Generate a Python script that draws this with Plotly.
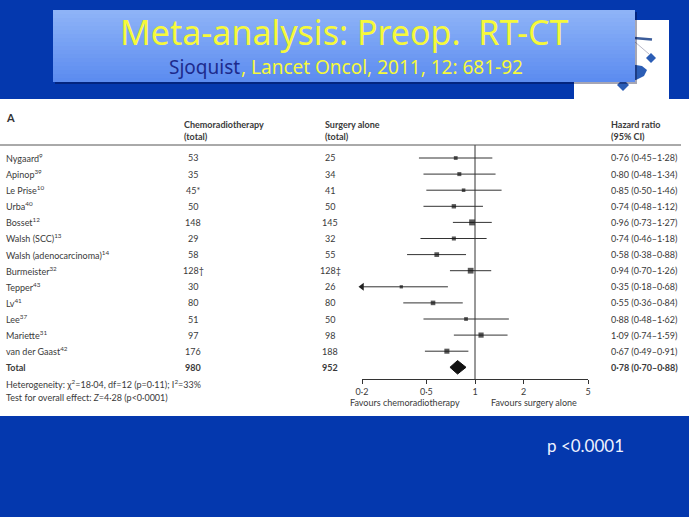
import math
import plotly.graph_objects as go

W, H = 689, 517

# ---------------- data ----------------
studies = ["Nygaard<sup>9</sup>", "Apinop<sup>39</sup>", "Le Prise<sup>10</sup>", "Urba<sup>40</sup>",
           "Bosset<sup>12</sup>", "Walsh (SCC)<sup>13</sup>", "Walsh (adenocarcinoma)<sup>14</sup>",
           "Burmeister<sup>32</sup>", "Tepper<sup>43</sup>", "Lv<sup>41</sup>", "Lee<sup>37</sup>",
           "Mariette<sup>31</sup>", "van der Gaast<sup>42</sup>"]
chemo_n = [53, 35, 45, 50, 148, 29, 58, 128, 30, 80, 51, 97, 176]
chemo_note = ["", "", "*", "", "", "", "", "†", "", "", "", "", ""]
surg_n = [25, 34, 41, 50, 145, 32, 55, 128, 26, 80, 50, 98, 188]
surg_note = ["", "", "", "", "", "", "", "‡", "", "", "", "", ""]
hr = [0.76, 0.80, 0.85, 0.74, 0.96, 0.74, 0.58, 0.94, 0.35, 0.55, 0.88, 1.09, 0.67]
hr_lo = [0.45, 0.48, 0.50, 0.48, 0.73, 0.46, 0.38, 0.70, 0.18, 0.36, 0.48, 0.74, 0.49]
hr_hi = [1.28, 1.34, 1.46, 1.12, 1.27, 1.18, 0.88, 1.26, 0.68, 0.84, 1.62, 1.59, 0.91]
weights = [5.6, 6.3, 5.0, 7.5, 14.0, 6.4, 8.6, 13.0, 4.2, 8.2, 5.5, 10.5, 10.0]
total_chemo, total_surg = 980, 952
total_hr, total_lo, total_hi = 0.78, 0.70, 0.88
tick_vals = [0.2, 0.5, 1, 2, 5]
tick_text = ["0·2", "0·5", "1", "2", "5"]
heterogeneity = "Heterogeneity: χ<sup>2</sup>=18·04, df=12 (p=0·11); I<sup>2</sup>=33%"
overall = "Test for overall effect: <i>Z</i>=4·28 (p&lt;0·0001)"
title = "Meta-analysis: Preop.  RT-CT"
author = "Sjoquist"
citation = ", Lancet Oncol, 2011, 12: 681-92"
pvalue = "p &lt;0.0001"

# ---------------- helpers ----------------
FONT = "Lato"
TXT = "#3a3a3a"
BLUE = "#0438AE"


def fx(p):
    return p / W


def fy(p):
    return 1 - p / H


def dot(v):
    return f"{v:.2f}".replace(".", "·")


def hr_label(h, l, u):
    return f"{dot(h)} ({dot(l)}–{dot(u)})"


n = len(studies)
rows = list(range(n))
total_row = n
axis_min, axis_max = tick_vals[0], tick_vals[-1]

ROW0, STEP = 158, 16.1
AX_Y, HEAD_Y = 379, 145
y_top = (HEAD_Y - ROW0) / STEP
y_bot = (AX_Y - ROW0) / STEP

fig = go.Figure()

# CI lines
for i in rows:
    lo_d = max(hr_lo[i], axis_min)
    fig.add_trace(go.Scatter(x=[lo_d, hr_hi[i]], y=[i, i], mode="lines",
                             line=dict(color="#333333", width=1), hoverinfo="skip",
                             showlegend=False, cliponaxis=False))
# arrows for truncated CIs
arrow_rows = [i for i in rows if hr_lo[i] < axis_min]
fig.add_trace(go.Scatter(x=[axis_min] * len(arrow_rows), y=arrow_rows, mode="markers",
                         marker=dict(symbol="triangle-left", size=7, color="#222222"),
                         showlegend=False, cliponaxis=False, hoverinfo="skip"))
# point estimates
fig.add_trace(go.Scatter(x=hr, y=rows, mode="markers",
                         marker=dict(symbol="square", color="#111111",
                                     size=[1.6 * math.sqrt(w) for w in weights],
                                     line=dict(width=0)),
                         showlegend=False, cliponaxis=False, hoverinfo="skip"))
# pooled diamond
fig.add_trace(go.Scatter(x=[total_lo, total_hr, total_hi, total_hr, total_lo],
                         y=[total_row, total_row - 0.42, total_row, total_row + 0.42, total_row],
                         mode="lines", fill="toself", fillcolor="#111111",
                         line=dict(color="#111111", width=1), showlegend=False,
                         cliponaxis=False, hoverinfo="skip"))
# line of no effect
fig.add_trace(go.Scatter(x=[1, 1], y=[y_top, y_bot], mode="lines",
                         line=dict(color="#333333", width=1), showlegend=False,
                         cliponaxis=False, hoverinfo="skip"))

shapes = []
# white panel
shapes.append(dict(type="rect", xref="paper", yref="paper", x0=0, x1=1,
                   y0=fy(416), y1=fy(99), fillcolor="white", line=dict(width=0), layer="below"))
# logo box
shapes.append(dict(type="rect", xref="paper", yref="paper", x0=fx(574), x1=fx(669),
                   y0=fy(100), y1=fy(20), fillcolor="white", line=dict(width=0), layer="below"))
LOGO = "#2B5DB5"
shapes.append(dict(type="line", xref="paper", yref="paper", x0=fx(634), y0=fy(38), x1=fx(652), y1=fy(39.5),
                   line=dict(color="#3B5C9A", width=2.5)))
shapes.append(dict(type="line", xref="paper", yref="paper", x0=fx(635), y0=fy(42), x1=fx(649), y1=fy(54),
                   line=dict(color="#B8B8C8", width=1)))


def poly(pts):
    return "M " + " L ".join(f"{fx(a)},{fy(b)}" for a, b in pts) + " Z"


shapes.append(dict(type="path", xref="paper", yref="paper",
                   path=poly([(651, 53), (656, 58), (651, 63), (646, 58)]),
                   fillcolor=LOGO, line=dict(width=0)))
shapes.append(dict(type="path", xref="paper", yref="paper",
                   path=poly([(630, 64), (642, 66), (647, 70), (644, 76), (636, 80), (630, 80)]),
                   fillcolor=LOGO, line=dict(width=0)))
shapes.append(dict(type="path", xref="paper", yref="paper",
                   path=poly([(623, 79), (629, 85), (623, 91), (617, 85)]),
                   fillcolor=LOGO, line=dict(width=0)))
# title box: shadow + vertical gradient built from thin bands
shapes.append(dict(type="rect", xref="paper", yref="paper", x0=fx(55), x1=fx(637),
                   y0=fy(84), y1=fy(12), fillcolor="rgba(0,0,40,0.35)", line=dict(width=0)))
top_rgb, bot_rgb = (0x8E, 0xB3, 0xF7), (0x5C, 0x8C, 0xF0)
BOX_T, BOX_B, NB = 10, 82, 18
for k in range(NB):
    t = k / (NB - 1)
    c = tuple(round(a + (b - a) * t) for a, b in zip(top_rgb, bot_rgb))
    y0p = BOX_T + (BOX_B - BOX_T) * k / NB
    y1p = BOX_T + (BOX_B - BOX_T) * (k + 1) / NB
    shapes.append(dict(type="rect", xref="paper", yref="paper", x0=fx(53), x1=fx(635),
                       y0=fy(min(y1p + 0.3, BOX_B)), y1=fy(y0p), fillcolor="rgb(%d,%d,%d)" % c,
                       line=dict(width=0)))
# header rule
shapes.append(dict(type="line", xref="paper", yref="paper", x0=fx(0), x1=fx(681),
                   y0=fy(HEAD_Y), y1=fy(HEAD_Y), line=dict(color="#555555", width=1)))

ann = []


def add(text, x, y, yref="y", anchor="left", size=9, color=TXT, bold=False, family=FONT, yanchor="middle"):
    if bold:
        text = f"<b>{text}</b>"
    ann.append(dict(text=text, x=fx(x), xref="paper", y=y, yref=yref, xanchor=anchor,
                    yanchor=yanchor, showarrow=False, align="left", borderpad=0,
                    font=dict(family=family, size=size, color=color)))


# title
add(title, 344, fy(32), yref="paper", anchor="center", size=34, color="#F6F93A", family="Noto Sans")
add(author, 241, fy(67), yref="paper", anchor="right", size=19, color="#1D2A8C", family="Noto Sans")
add(citation, 240, fy(67), yref="paper", anchor="left", size=19, color="#F6F93A", family="Noto Sans")

# headers
add("A", 5, fy(117), yref="paper", size=11, bold=True, color="#333333")
add("<b>Chemoradiotherapy</b><br><b>(total)</b>", 183, fy(130), yref="paper")
add("<b>Surgery alone</b><br><b>(total)</b>", 324, fy(130), yref="paper")
add("<b>Hazard ratio</b><br><b>(95% CI)</b>", 610, fy(130), yref="paper")

for i in rows:
    add(studies[i], 5, i)
    add(f"{chemo_n[i]}{chemo_note[i]}", 193, i, anchor="center")
    add(f"{surg_n[i]}{surg_note[i]}", 330, i, anchor="center")
    add(hr_label(hr[i], hr_lo[i], hr_hi[i]), 610, i)

add("Total", 5, total_row, bold=True)
add(str(total_chemo), 193, total_row, anchor="center", bold=True)
add(str(total_surg), 330, total_row, anchor="center", bold=True)
add(hr_label(total_hr, total_lo, total_hi), 610, total_row, bold=True)
add(heterogeneity, 5, fy(384), yref="paper")
add(overall, 5, fy(397), yref="paper")

add("Favours chemoradiotherapy", 405, fy(402), yref="paper", anchor="center")
add("Favours surgery alone", 534, fy(402), yref="paper", anchor="center")

add(pvalue, 546, fy(445), yref="paper", size=17, color="#EEF2FF")

fig.update_layout(
    width=W, height=H, margin=dict(l=0, r=0, t=0, b=0, pad=0, autoexpand=False),
    paper_bgcolor=BLUE, plot_bgcolor="rgba(0,0,0,0)",
    shapes=shapes, annotations=ann, showlegend=False,
    xaxis=dict(type="log", domain=[fx(362), fx(588)],
               range=[math.log10(axis_min), math.log10(axis_max)],
               tickvals=tick_vals, ticktext=tick_text, ticks="outside", ticklen=4,
               tickcolor="#333333", showline=True, linecolor="#333333", linewidth=1,
               showgrid=False, zeroline=False, fixedrange=True, automargin=False,
               tickfont=dict(family=FONT, size=9, color=TXT)),
    yaxis=dict(domain=[fy(AX_Y), fy(HEAD_Y)], range=[y_bot, y_top], visible=False,
               fixedrange=True, automargin=False),
)

fig.write_html("out.html", config={"displayModeBar": False},
               post_script="document.body.style.margin='0';document.body.style.padding='0';"
                           "document.body.style.overflow='hidden';"
                           "document.body.style.background='" + BLUE + "';")
